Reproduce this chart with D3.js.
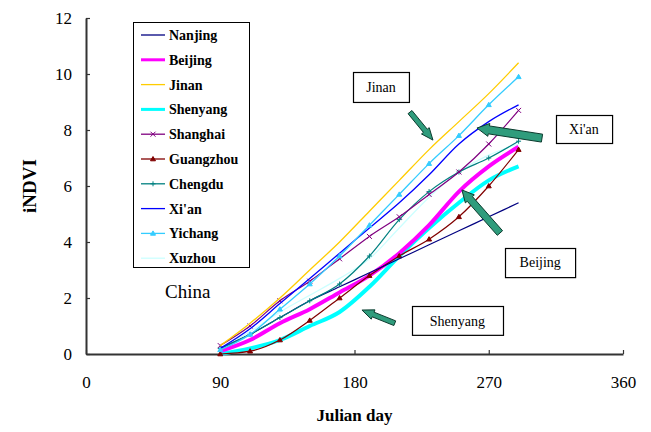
<!DOCTYPE html>
<html>
<head>
<meta charset="utf-8">
<script src="https://cdn.jsdelivr.net/npm/d3@7"></script>
<style>
  body { margin: 0; background: #fff; }
  svg text { font-family: "Liberation Serif", "DejaVu Serif", serif; }
</style>
</head>
<body>
<svg id="chart" width="651" height="432"></svg>
<script>
// sample days (Julian day) for every city curve
const days = [90, 110, 130, 150, 170, 190, 210, 230, 250, 270, 290];

// iNDVI at each sample day
const nanjing   = [0.2, 0.7, 1.3, 1.9, 2.4, 2.9, 3.4, 3.9, 4.4, 4.9, 5.4];
const beijing   = [0.1, 0.5, 1.1, 1.6, 2.2, 2.8, 3.6, 4.6, 5.8, 6.7, 7.4];
const jinan     = [0.3, 1.1, 2.0, 3.0, 4.0, 5.1, 6.2, 7.3, 8.3, 9.3, 10.4];
const shenyang  = [0.0, 0.2, 0.5, 1.0, 1.5, 2.4, 3.5, 4.5, 5.4, 6.2, 6.7];
const shanghai  = [0.3, 1.0, 1.9, 2.6, 3.4, 4.2, 4.9, 5.7, 6.5, 7.5, 8.7];
const guangzhou = [0.0, 0.1, 0.5, 1.2, 2.0, 2.8, 3.5, 4.1, 4.9, 6.0, 7.3];
const chengdu   = [0.2, 0.7, 1.3, 1.9, 2.5, 3.5, 4.8, 5.8, 6.5, 7.0, 7.6];
const xian      = [0.2, 0.9, 1.8, 2.7, 3.6, 4.5, 5.4, 6.4, 7.5, 8.3, 8.9];
const yichang   = [0.15, 0.7, 1.6, 2.5, 3.5, 4.6, 5.7, 6.8, 7.8, 8.9, 9.9];
const xuzhou    = [0.2, 0.8, 1.5, 2.1, 2.7, 3.4, 4.5, 5.6, 6.5, 7.1, 7.5];

const cityNames = ["Nanjing", "Beijing", "Jinan", "Shenyang", "Shanghai",
                   "Guangzhou", "Chengdu", "Xi'an", "Yichang", "Xuzhou"];
const cityValues = [nanjing, beijing, jinan, shenyang, shanghai,
                    guangzhou, chengdu, xian, yichang, xuzhou];

const xTicks = [0, 90, 180, 270, 360];
const yTicks = [0, 2, 4, 6, 8, 10, 12];

// callout labels: [text, day0, day1, v0, v1]
const callouts = [
  ["Jinan",    179, 216.5, 10.07, 9.0],
  ["Xi'an",    315, 352.6, 8.54, 7.54],
  ["Beijing",  281, 328, 3.79, 2.75],
  ["Shenyang", 218.5, 279.5, 1.71, 0.68]
];
// arrows: [tailDay, tailV, headDay, headV, thickness]
const arrows = [
  [217.2, 8.64, 232.6, 7.64, 5],
  [305.7, 7.71, 262.1, 8.07, 8],
  [277.5, 4.32, 252, 5.86, 7],
  [207, 1.1, 185, 1.57, 5]
];

// styles per city
const STYLE = {
  "Nanjing":   { color: "#000080", width: 1.2, marker: null },
  "Beijing":   { color: "#ff00ff", width: 4,   marker: null },
  "Jinan":     { color: "#ffcc00", width: 1.3, marker: null },
  "Shenyang":  { color: "#00ffff", width: 4,   marker: null },
  "Shanghai":  { color: "#800080", width: 1.2, marker: "x" },
  "Guangzhou": { color: "#800000", width: 1.2, marker: "tri" },
  "Chengdu":   { color: "#008080", width: 1.2, marker: "plus" },
  "Xi'an":     { color: "#0000ff", width: 1.3, marker: null },
  "Yichang":   { color: "#33ccff", width: 1.3, marker: "tri" },
  "Xuzhou":    { color: "#ccffff", width: 1.3, marker: null }
};

const SERIF = "'Liberation Serif', 'DejaVu Serif', serif";

const svg = d3.select("#chart");

const x = d3.scaleLinear().domain([0, 360]).range([86, 623]);
const y = d3.scaleLinear().domain([0, 12]).range([354, 18]);

// axes (ticks point inward like the original)
const axisColor = "#333";
const xAxis = svg.append("g")
  .attr("transform", `translate(0,${y(0)})`)
  .call(d3.axisBottom(x).tickValues(xTicks).tickSize(-4).tickPadding(22).tickSizeOuter(0));
const yAxis = svg.append("g")
  .attr("transform", `translate(${x(0)},0)`)
  .call(d3.axisLeft(y).tickValues(yTicks).tickSize(-4).tickPadding(14).tickSizeOuter(0));

[xAxis, yAxis].forEach(a => {
  a.attr("font-family", SERIF);
  a.select(".domain").attr("stroke", axisColor).attr("stroke-width", 2);
  a.selectAll(".tick line").attr("stroke", axisColor).attr("stroke-width", 1.2);
  a.selectAll("text")
    .attr("fill", "#000")
    .attr("font-family", SERIF)
    .attr("font-size", 17);
});

// axis titles
svg.append("text")
  .attr("x", (x(0) + x(360)) / 2)
  .attr("y", 421)
  .attr("text-anchor", "middle")
  .attr("font-family", SERIF)
  .attr("font-size", 17)
  .attr("font-weight", "bold")
  .text("Julian day");

svg.append("text")
  .attr("transform", `translate(36,${(y(0) + y(12)) / 2}) rotate(-90)`)
  .attr("text-anchor", "middle")
  .attr("font-family", SERIF)
  .attr("font-size", 19)
  .attr("font-weight", "bold")
  .text("iNDVI");

// curves
const line = d3.line()
  .x(d => x(d[0]))
  .y(d => y(d[1]))
  .curve(d3.curveMonotoneX);

function markerPath(kind) {
  if (kind === "x") return "M-2.5,-2.5L2.5,2.5M-2.5,2.5L2.5,-2.5";
  if (kind === "plus") return "M-2.5,0L2.5,0M0,-2.5L0,2.5";
  return "M0,-2.5L2.5,1.8L-2.5,1.8Z";
}

const plot = svg.append("g");
// draw order roughly as in the original stacking
const drawOrder = [9, 3, 1, 5, 0, 6, 4, 7, 8, 2];
drawOrder.forEach(i => {
  const name = cityNames[i];
  const st = STYLE[name];
  const pts = days.map((d, k) => [d, cityValues[i][k]]);
  plot.append("path")
    .datum(pts)
    .attr("fill", "none")
    .attr("stroke", st.color)
    .attr("stroke-width", st.width)
    .attr("stroke-linejoin", "round")
    .attr("d", line);
  if (st.marker) {
    plot.append("g").selectAll("path")
      .data(pts)
      .join("path")
      .attr("transform", d => `translate(${x(d[0])},${y(d[1])})`)
      .attr("d", markerPath(st.marker))
      .attr("fill", st.marker === "tri" ? st.color : "none")
      .attr("stroke", st.color)
      .attr("stroke-width", 1);
  }
});

// legend
const legend = svg.append("g");
legend.append("rect")
  .attr("x", 133.5).attr("y", 22.5)
  .attr("width", 116).attr("height", 245)
  .attr("fill", "#fff")
  .attr("stroke", "#000")
  .attr("stroke-width", 1);

cityNames.forEach((name, i) => {
  const st = STYLE[name];
  const yy = 35 + i * 24.8;
  legend.append("line")
    .attr("x1", 141).attr("x2", 165)
    .attr("y1", yy).attr("y2", yy)
    .attr("stroke", st.color)
    .attr("stroke-width", st.width > 2 ? 3 : 1.3);
  if (st.marker) {
    legend.append("path")
      .attr("transform", `translate(153,${yy})`)
      .attr("d", markerPath(st.marker))
      .attr("fill", st.marker === "tri" ? st.color : "none")
      .attr("stroke", st.color);
  }
  legend.append("text")
    .attr("x", 169)
    .attr("y", yy + 5)
    .attr("font-family", SERIF)
    .attr("font-size", 14)
    .attr("font-weight", "bold")
    .text(name);
});

// "China" label
svg.append("text")
  .attr("x", x(53))
  .attr("y", y(2.0))
  .attr("font-family", SERIF)
  .attr("font-size", 19)
  .text("China");

// callout boxes
callouts.forEach(([label, d0, d1, v0, v1]) => {
  const g = svg.append("g");
  g.append("rect")
    .attr("x", Math.round(x(d0)) + 0.5)
    .attr("y", Math.round(y(v0)) + 0.5)
    .attr("width", x(d1) - x(d0))
    .attr("height", y(v1) - y(v0))
    .attr("fill", "#fff")
    .attr("stroke", "#000")
    .attr("stroke-width", 1.2);
  g.append("text")
    .attr("x", (x(d0) + x(d1)) / 2)
    .attr("y", (y(v0) + y(v1)) / 2 + 5)
    .attr("text-anchor", "middle")
    .attr("font-family", SERIF)
    .attr("font-size", 14)
    .text(label);
});

// block arrows
arrows.forEach(([d0, v0, d1, v1, w]) => {
  const x0 = x(d0), y0 = y(v0), x1 = x(d1), y1 = y(v1);
  const len = Math.hypot(x1 - x0, y1 - y0);
  const ux = (x1 - x0) / len, uy = (y1 - y0) / len;
  const nx = -uy, ny = ux;
  const headLen = Math.min(12, len * 0.35);
  const headW = w + 5;
  const bx = x1 - ux * headLen, by = y1 - uy * headLen;
  const pts = [
    [x0 + nx * w / 2, y0 + ny * w / 2],
    [bx + nx * w / 2, by + ny * w / 2],
    [bx + nx * headW / 2, by + ny * headW / 2],
    [x1, y1],
    [bx - nx * headW / 2, by - ny * headW / 2],
    [bx - nx * w / 2, by - ny * w / 2],
    [x0 - nx * w / 2, y0 - ny * w / 2]
  ];
  svg.append("path")
    .attr("d", "M" + pts.map(p => p.join(",")).join("L") + "Z")
    .attr("fill", "#2f9c7c")
    .attr("stroke", "#0b3b2e")
    .attr("stroke-width", 1);
});
</script>
</body>
</html>
